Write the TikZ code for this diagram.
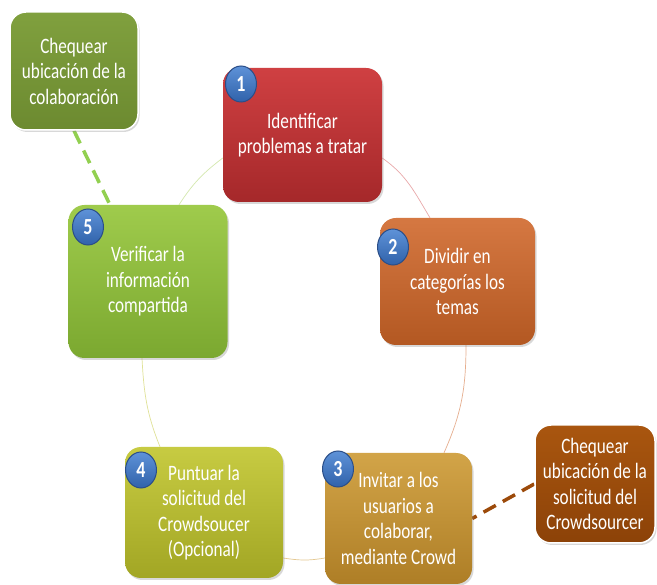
\documentclass[tikz,border=0pt]{standalone}
\usepackage{fontspec}
\newfontfamily\boxfont{Carlito}[FakeStretch=0.78]
\usetikzlibrary{shapes.geometric,shadows}
\pgfdeclarelayer{background}
\pgfsetlayers{background,main}

\definecolor{redtop}{HTML}{CF4042}
\definecolor{redbot}{HTML}{A5282A}
\definecolor{orgtop}{HTML}{D57842}
\definecolor{orgbot}{HTML}{B35822}
\definecolor{goldtop}{HTML}{D2A448}
\definecolor{goldbot}{HTML}{AE7E26}
\definecolor{limetop}{HTML}{C7CB42}
\definecolor{limebot}{HTML}{A2A624}
\definecolor{greentop}{HTML}{9FCB4C}
\definecolor{greenbot}{HTML}{7BA830}
\definecolor{olivetop}{HTML}{80A03E}
\definecolor{olivebot}{HTML}{6C8A30}
\definecolor{rusttop}{HTML}{A9560F}
\definecolor{rustbot}{HTML}{8C4208}
\definecolor{badgetop}{HTML}{5E92D8}
\definecolor{badgebot}{HTML}{3062AA}
\definecolor{badgeline}{HTML}{2B4E88}
\definecolor{dashgreen}{HTML}{92D050}
\definecolor{dashrust}{HTML}{9C4A0A}

\begin{document}
\begin{tikzpicture}[x=1pt,y=1pt,
  stepbox/.style={rounded corners=16pt, inner sep=0pt, align=center,
    text=white, font=\boxfont\fontsize{22}{25.5}\selectfont,
    drop shadow={opacity=0.3, shadow xshift=1.5pt, shadow yshift=-2pt}},
  callout/.style={stepbox, draw=white, line width=1.5pt},
  badge/.style={ellipse, minimum width=31pt, minimum height=36pt, inner sep=0pt,
    top color=badgetop, bottom color=badgebot, draw=badgeline, line width=1pt,
    text=white, font=\boxfont\bfseries\fontsize{23}{23}\selectfont},
  cycle/.style={line width=0.7pt},
  dashlink/.style={line width=3.5pt, dash pattern=on 14pt off 8pt}]

\useasboundingbox (0,0) rectangle (657,-585);

% steps of the cycle
\node[stepbox, minimum width=159pt, minimum height=134pt,
  top color=redtop, bottom color=redbot] (b1) at (302.5,-135)
  {Identificar\\problemas a tratar};
\node[stepbox, minimum width=155pt, minimum height=127pt,
  top color=orgtop, bottom color=orgbot] (b2) at (457.5,-281.5)
  {Dividir en\\categorías los\\temas};
\node[stepbox, minimum width=147pt, minimum height=131pt,
  top color=goldtop, bottom color=goldbot] (b3) at (398.5,-518.5)
  {Invitar a los\\usuarios a\\colaborar,\\mediante Crowd};
\node[stepbox, minimum width=158pt, minimum height=131pt,
  top color=limetop, bottom color=limebot] (b4) at (204,-512.5)
  {Puntuar la\\solicitud del\\Crowdsoucer\\(Opcional)};
\node[stepbox, minimum width=159pt, minimum height=153pt,
  top color=greentop, bottom color=greenbot] (b5) at (148,-281.5)
  {Verificar la\\información\\compartida};

% side notes
\node[callout, minimum width=128pt, minimum height=118pt,
  top color=olivetop, bottom color=olivebot] (ctl) at (74,-71)
  {Chequear\\ubicación de la\\colaboración};
\node[callout, minimum width=120pt, minimum height=118pt,
  top color=rusttop, bottom color=rustbot] (cbr) at (595,-484)
  {Chequear\\ubicación de la\\solicitud del\\Crowdsourcer};

% numbered badges
\node[badge] (n1) at (241,-84) {1};
\node[badge] (n2) at (393,-247) {2};
\node[badge] (n3) at (338,-469) {3};
\node[badge] (n4) at (141,-470) {4};
\node[badge] (n5) at (88,-227) {5};

% white page, cycle arcs and dashed links behind the boxes
\begin{pgfonlayer}{background}
  \fill[white] (0,0) rectangle (657,-585);
  \draw[cycle, color=redtop!45] ([yshift=-23pt]b1.east) to[out=-35, in=121] ([xshift=-27.5pt]b2.north);
  \draw[cycle, color=orgtop!60] ([xshift=8.5pt]b2.south) to[out=-90, in=66] ([xshift=45.5pt]b3.north);
  \draw[cycle, color=goldtop!60] ([yshift=-39.5pt]b3.west) to[out=190, in=-9] ([yshift=-45.5pt]b4.east);
  \draw[cycle, color=limetop!55] ([xshift=-44pt]b4.north) to[out=112, in=-87] ([xshift=-6pt]b5.south);
  \draw[cycle, color=greentop!45] ([xshift=31pt]b5.north) to[out=57, in=217] ([yshift=-23pt]b1.west);
  \draw[dashlink, color=dashgreen] (ctl.south) -- ([xshift=-38pt]b5.north);
  \draw[dashlink, color=dashrust] (cbr.west) -- (b3.east);
\end{pgfonlayer}
\end{tikzpicture}
\end{document}
